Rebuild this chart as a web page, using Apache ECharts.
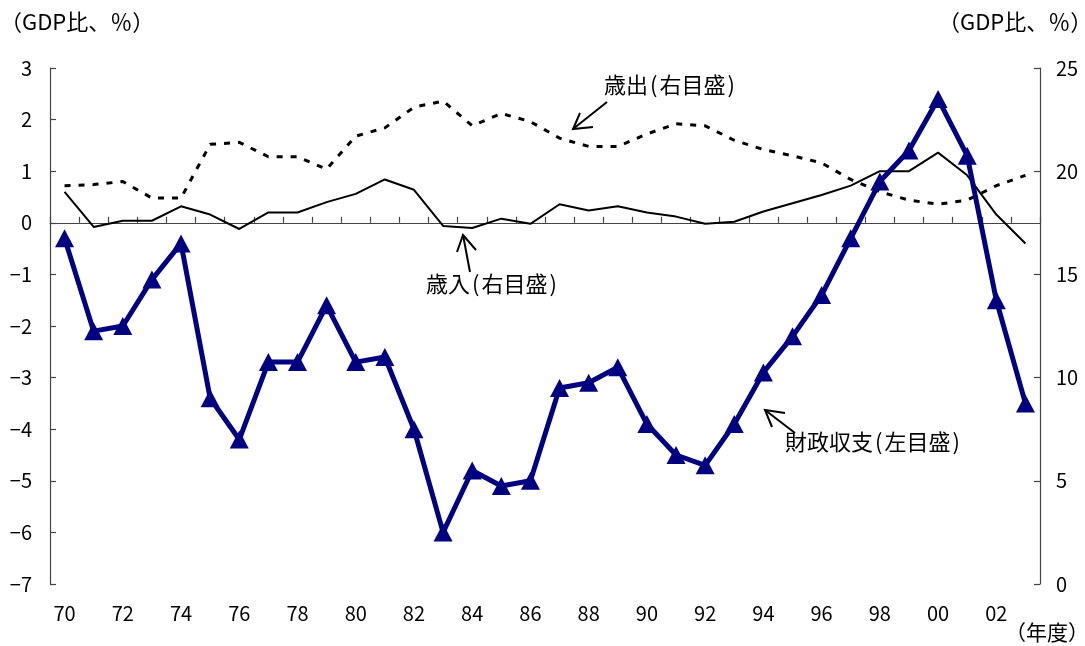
<!DOCTYPE html>
<html>
<head>
<meta charset="utf-8">
<script src="https://cdn.jsdelivr.net/npm/echarts@6/dist/echarts.min.js"></script>
<style>
  html, body { margin: 0; padding: 0; background: #fff; }
  #chart { width: 1085px; height: 646px; }
</style>
</head>
<body>
<div id="chart"></div>
<script>
// Fiscal years (two-digit labels), 1970–2003
const years = ['70','71','72','73','74','75','76','77','78','79',
               '80','81','82','83','84','85','86','87','88','89',
               '90','91','92','93','94','95','96','97','98','99',
               '00','01','02','03'];

// 財政収支 (left scale, % of GDP)
const balance = [-0.3, -2.1, -2.0, -1.1, -0.4, -3.4, -4.2, -2.7, -2.7, -1.6,
                 -2.7, -2.6, -4.0, -6.0, -4.8, -5.1, -5.0, -3.2, -3.1, -2.8,
                 -3.9, -4.5, -4.7, -3.9, -2.9, -2.2, -1.4, -0.3, 0.8, 1.4,
                 2.4, 1.3, -1.5, -3.5];

// 歳入 (right scale, % of GDP)
const revenue = [19.0, 17.3, 17.6, 17.6, 18.3, 17.9, 17.2, 18.0, 18.0, 18.5,
                 18.9, 19.6, 19.1, 17.35, 17.25, 17.7, 17.45, 18.4, 18.1, 18.3,
                 18.0, 17.8, 17.45, 17.55, 18.05, 18.45, 18.85, 19.3, 20.0, 20.0,
                 20.9, 19.8, 17.9, 16.5];

// 歳出 (right scale, % of GDP)
const expenditure = [19.3, 19.35, 19.5, 18.7, 18.7, 21.3, 21.4, 20.7, 20.7, 20.1,
                     21.7, 22.1, 23.1, 23.4, 22.2, 22.8, 22.4, 21.6, 21.2, 21.2,
                     21.8, 22.3, 22.2, 21.5, 21.05, 20.75, 20.4, 19.6, 19.0, 18.6,
                     18.4, 18.6, 19.3, 19.8];

const leftRange = { min: -7, max: 3, interval: 1 };
const rightRange = { min: 0, max: 25, interval: 5 };

const FONT = '"Noto Sans CJK JP", "Noto Sans", sans-serif';
const AXIS_COLOR = '#444';

const chart = echarts.init(document.getElementById('chart'), null, { renderer: 'canvas' });

function arrow(tail, tip, h1, h2) {
  return [
    { type: 'line', shape: { x1: tail[0], y1: tail[1], x2: tip[0], y2: tip[1] },
      style: { stroke: '#000', lineWidth: 2 }, z: 20 },
    { type: 'polyline', shape: { points: [h1, tip, h2] },
      style: { stroke: '#000', lineWidth: 2, fill: null }, z: 20 }
  ];
}

// annotation caption: name followed by the scale it is read on, in parentheses
const caption = (x, y, name, scale) => ({
  type: 'text', left: x, top: y, z: 20,
  style: {
    text: '{k|' + name + '}{p|(}{k|' + scale + '}{p|)}',
    rich: {
      k: { fontSize: 22, fontFamily: FONT, fill: '#000', color: '#000' },
      p: { fontSize: 22, fontFamily: FONT, fill: '#000', color: '#000', padding: [0, 2] }
    }
  }
});

chart.setOption({
  animation: false,
  backgroundColor: '#fff',
  textStyle: { fontFamily: FONT },
  grid: { left: 50, right: 45, top: 68, bottom: 62, containLabel: false },
  xAxis: [
    {
      type: 'category', data: years, boundaryGap: true, position: 'bottom',
      axisLine: { show: false, onZero: false },
      axisTick: { show: false },
      axisLabel: { interval: 1, margin: 19, fontSize: 20, color: '#000', fontFamily: FONT }
    },
    {
      type: 'category', data: years, boundaryGap: true, position: 'bottom',
      axisLine: { show: true, onZero: true, onZeroAxisIndex: 0, lineStyle: { color: AXIS_COLOR, width: 1.2 } },
      axisTick: { show: true, inside: true, interval: 0, length: 6, lineStyle: { color: AXIS_COLOR, width: 1.2 } },
      axisLabel: { show: false }
    }
  ],
  yAxis: [
    {
      type: 'value', position: 'left', min: leftRange.min, max: leftRange.max, interval: leftRange.interval,
      axisLine: { show: true, onZero: false, lineStyle: { color: AXIS_COLOR, width: 1.2 } },
      axisTick: { show: true, inside: true, length: 6, lineStyle: { color: AXIS_COLOR, width: 1.2 } },
      splitLine: { show: false },
      axisLabel: { margin: 18, fontSize: 20, color: '#000', fontFamily: FONT,
                   formatter: v => String(v).replace('-', '\u2212') }
    },
    {
      type: 'value', position: 'right', min: rightRange.min, max: rightRange.max, interval: rightRange.interval,
      axisLine: { show: true, onZero: false, lineStyle: { color: AXIS_COLOR, width: 1.2 } },
      axisTick: { show: true, inside: true, length: 6, lineStyle: { color: AXIS_COLOR, width: 1.2 } },
      splitLine: { show: false },
      axisLabel: { margin: 16, fontSize: 20, color: '#000', fontFamily: FONT }
    }
  ],
  series: [
    {
      name: '歳出', type: 'line', xAxisIndex: 0, yAxisIndex: 1, data: expenditure,
      symbol: 'none', z: 2,
      lineStyle: { color: '#000', width: 3, type: [6, 8] }
    },
    {
      name: '歳入', type: 'line', xAxisIndex: 0, yAxisIndex: 1, data: revenue,
      symbol: 'none', z: 3,
      lineStyle: { color: '#000', width: 2 }
    },
    {
      name: '財政収支', type: 'line', xAxisIndex: 0, yAxisIndex: 0, data: balance,
      symbol: 'triangle', symbolSize: [19, 18], z: 5,
      itemStyle: { color: '#000080' },
      lineStyle: { color: '#000080', width: 5 }
    }
  ],
  graphic: [
    // axis unit captions
    { type: 'text', left: 0, top: 11, style: { text: '（GDP比、％）', font: '22px ' + FONT, fill: '#000' } },
    { type: 'text', left: 938, top: 11, style: { text: '（GDP比、％）', font: '22px ' + FONT, fill: '#000' } },
    { type: 'text', left: 1005, top: 622, style: { text: '（年度）', font: '21px ' + FONT, fill: '#000' } },
    // series annotations
    caption(604, 74, '歳出', '右目盛'),
    ...arrow([607, 102], [573, 129], [580, 113], [593, 127]),
    caption(426, 273, '歳入', '右目盛'),
    ...arrow([470, 272], [463, 235], [457, 252], [476, 250]),
    caption(785, 431, '財政収支', '左目盛'),
    ...arrow([795, 433], [765, 410], [785, 413], [772, 427])
  ]
});
</script>
</body>
</html>
